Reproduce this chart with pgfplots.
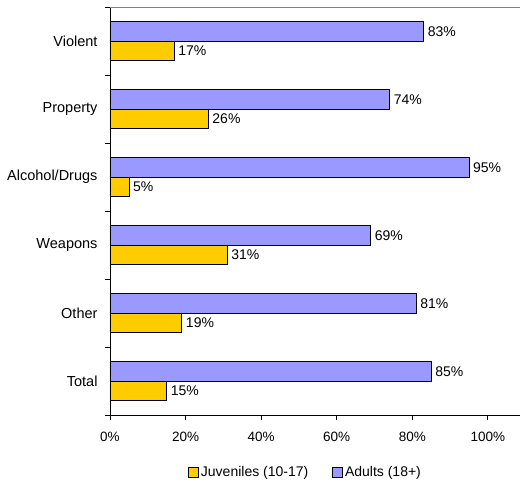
\documentclass[border=0pt]{standalone}
\usepackage{fontspec}
\setmainfont{Liberation Sans}
\usepackage{pgfplots}
\pgfplotsset{compat=1.18}
\definecolor{juv}{HTML}{FFCC00}
\definecolor{adu}{HTML}{9999FF}
\begin{document}
\begin{tikzpicture}
\useasboundingbox (-110pt,-68pt) rectangle (411pt,415pt);
\begin{axis}[
  at={(0pt,0pt)}, anchor=south west, scale only axis, clip=false,
  width=410pt, height=408pt,
  xbar, xmin=0, xmax=108.5, ymin=-0.5, ymax=5.5,
  axis x line*=bottom, axis y line*=left,
  axis line style={black, line width=0.8pt},
  xtick={0,20,...,100},
  xticklabel={\pgfmathprintnumber{\tick}\%},
  /pgf/number format/assume math mode=true,
  ytick={-0.5,0.5,...,5.5},
  y tick label as interval,
  yticklabels={Total,Other,Weapons,Alcohol/Drugs,Property,Violent},
  major tick length=0pt,
  xticklabel style={font=\fontsize{13.5}{15}\selectfont, yshift=-14pt},
  yticklabel style={font=\fontsize{14.5}{16}\selectfont, xshift=-9pt},
  bar width=0.287,
  nodes near coords={\pgfmathprintnumber{\pgfplotspointmeta}\%},
  point meta=x,
  every node near coord/.append style={font=\fontsize{14}{16}\selectfont, black, anchor=west, xshift=0.5pt},
  legend style={at={(0.477,-0.14)}, anchor=center, draw=none, legend columns=2,
    font=\fontsize{14}{16}\selectfont,
    /tikz/every even column/.append style={column sep=22pt}},
  legend image code/.code={\draw[#1,draw=black,line width=0.7pt] (0pt,-5pt) rectangle (10pt,5pt);},
]
\draw[gray, line width=0.8pt] (rel axis cs:0,1) -- (rel axis cs:1,1);
\pgfplotsinvokeforeach{-0.5,0.5,1.5,2.5,3.5,4.5,5.5}{
  \draw[black, line width=0.8pt] (axis cs:0,#1) -- ++(-5pt,0pt);}
\pgfplotsinvokeforeach{0,20,40,60,80,100}{
  \draw[black, line width=0.8pt] (axis cs:#1,-0.5) -- ++(0pt,-5pt);}
\addplot[fill=juv, draw=black, line width=0.7pt, bar shift=-0.1435] coordinates {
  (15,0) (19,1) (31,2) (5,3) (26,4) (17,5)};
\addlegendentry{Juveniles (10-17)}
\addplot[fill=adu, draw=black, line width=0.7pt, bar shift=0.1435] coordinates {
  (85,0) (81,1) (69,2) (95,3) (74,4) (83,5)};
\addlegendentry{Adults (18+)}
\end{axis}
\end{tikzpicture}
\end{document}
